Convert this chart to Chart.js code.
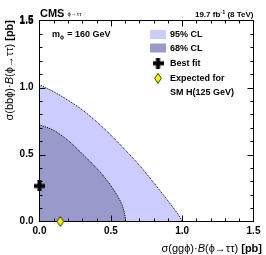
<!DOCTYPE html>
<html><head><meta charset="utf-8">
<script src="https://cdn.jsdelivr.net/npm/chart.js@4.4.0/dist/chart.umd.min.js"></script>
<style>html,body{margin:0;padding:0;background:#fff;}#wrap{width:266px;height:255px;}</style>
</head><body><div id="wrap"><canvas id="c" width="266" height="255"></canvas></div>
<script>
// ---- data ----
const outer95X = [0, 0.1, 0.2, 0.3, 0.4, 0.5, 0.6, 0.7, 0.8, 0.9, 0.95, 0.98, 1.0];
const outer95Y = [1.02, 0.968, 0.905, 0.833, 0.745, 0.645, 0.535, 0.42, 0.29, 0.155, 0.085, 0.04, 0];
const inner68X = [0, 0.1, 0.2, 0.3, 0.4, 0.45, 0.5, 0.55, 0.575, 0.59, 0.6, 0.603];
const inner68Y = [0.722, 0.68, 0.605, 0.505, 0.398, 0.338, 0.268, 0.185, 0.133, 0.085, 0.035, 0];
const bestFitX = [0];
const bestFitY = [0.265];
const expectedX = [0.146];
const expectedY = [0];
const xTickValues = [0, 0.5, 1.0, 1.5];
const yTickValues = [0, 0.5, 1.0, 1.5];
const legendLabels = ['95% CL', '68% CL', 'Best fit', 'Expected for', 'SM H(125 GeV)'];

const FONT = '"Liberation Sans", Arial, Helvetica, sans-serif';
const C95 = '#ccccff', C68 = '#9999cc';

function zip(xs, ys) { return xs.map((x, i) => ({x: x, y: ys[i]})); }

function makeCross() {
  const c = document.createElement('canvas'); c.width = 11; c.height = 11;
  const g = c.getContext('2d'); g.fillStyle = '#000';
  g.fillRect(3.5, 0, 4, 11); g.fillRect(0, 3.5, 11, 4);
  return c;
}
function makeDiamond() {
  const c = document.createElement('canvas'); c.width = 8; c.height = 11;
  const g = c.getContext('2d');
  g.beginPath(); g.moveTo(4, 0.6); g.lineTo(7.3, 5.5); g.lineTo(4, 10.4); g.lineTo(0.7, 5.5); g.closePath();
  g.fillStyle = '#ffff00'; g.fill(); g.lineWidth = 1; g.strokeStyle = '#333300'; g.stroke();
  return c;
}
const crossImg = makeCross(), diamondImg = makeDiamond();

const frameTicks = {
  id: 'frameTicks',
  afterDatasetDraw(chart, args) {
    if (args.index !== 2) return;
    const ctx = chart.ctx, a = chart.chartArea, xs = chart.scales.x, ys = chart.scales.y;
    ctx.save();
    ctx.strokeStyle = '#000'; ctx.lineWidth = 1;
    ctx.beginPath();
    for (let i = 1; i < 15; i++) {
      const len = (i % 5 === 0) ? 6 : 3;
      const px = Math.round(xs.getPixelForValue(i / 10)) + 0.5;
      ctx.moveTo(px, a.bottom); ctx.lineTo(px, a.bottom - len);
      ctx.moveTo(px, a.top); ctx.lineTo(px, a.top + len);
      const py = Math.round(ys.getPixelForValue(i / 10)) + 0.5;
      ctx.moveTo(a.left, py); ctx.lineTo(a.left + len, py);
      ctx.moveTo(a.right, py); ctx.lineTo(a.right - len, py);
    }
    ctx.stroke();
    ctx.strokeRect(a.left, a.top, a.right - a.left, a.bottom - a.top);
    ctx.restore();
  }
};

const annotations = {
  id: 'annotations',
  afterDraw(chart) {
    const ctx = chart.ctx, a = chart.chartArea, ys = chart.scales.y;
    const size = 11;
    const widthOf = segs => { let w = 0; segs.forEach(s => { ctx.font = s[0] + size + 'px ' + FONT; w += ctx.measureText(s[1]).width; }); return w; };
    const drawSegs = (segs, x, y) => { segs.forEach(s => { ctx.font = s[0] + size + 'px ' + FONT; ctx.fillText(s[1], x, y); x += ctx.measureText(s[1]).width; }); };
    const segsX = [['', 'σ(ggϕ)·'], ['italic ', 'B'], ['', '(ϕ→ττ) '], ['bold ', '[pb]']];
    const segsY = [['', 'σ(bbϕ)·'], ['italic ', 'B'], ['', '(ϕ→ττ) '], ['bold ', '[pb]']];

    // y axis title (rotated), drawn first in its own state
    ctx.save();
    ctx.fillStyle = '#000'; ctx.textAlign = 'left'; ctx.textBaseline = 'alphabetic';
    const wy = widthOf(segsY);
    ctx.setTransform(0, -1, 1, 0, 13, 20 + wy);
    drawSegs(segsY, 0, 0);
    ctx.restore();

    ctx.save();
    ctx.setTransform(1, 0, 0, 1, 0, 0);
    ctx.fillStyle = '#000';
    ctx.textBaseline = 'alphabetic';
    ctx.textAlign = 'left';
    const wx = widthOf(segsX);
    drawSegs(segsX, 262 - wx, 252);
    ctx.font = 'bold 11px ' + FONT;
    ctx.fillText('CMS', 40, 16.5);
    ctx.font = '6px ' + FONT;
    ctx.fillText('\u03D5\u2192\u03C4\u03C4', 67.5, 16);
    const f1 = 'bold 8px ' + FONT, f2 = 'bold 5.5px ' + FONT;
    ctx.font = f1; const w1 = ctx.measureText('19.7 fb').width, w3 = ctx.measureText(' (8 TeV)').width;
    ctx.font = f2; const w2 = ctx.measureText('-1').width;
    const x0 = a.right - (w1 + w2 + w3);
    ctx.font = f1; ctx.fillText('19.7 fb', x0, 17.3);
    ctx.font = f2; ctx.fillText('-1', x0 + w1, 13.5);
    ctx.font = f1; ctx.fillText(' (8 TeV)', x0 + w1 + w2, 17.3);
    ctx.font = 'bold 9px ' + FONT;
    ctx.fillText('m', 52, 36.5);
    const wm = ctx.measureText('m').width;
    ctx.font = 'bold 5.5px ' + FONT; ctx.fillText('\u03D5', 52 + wm, 38.5);
    const ws = ctx.measureText('\u03D5').width;
    ctx.font = 'bold 9px ' + FONT; ctx.fillText(' = 160 GeV', 52 + wm + ws + 0.5, 36.5);
    ctx.fillStyle = C95; ctx.fillRect(150, 30, 16, 9);
    ctx.fillStyle = C68; ctx.fillRect(150, 43.5, 16, 9);
    ctx.drawImage(crossImg, 158 - 5.5, 63.3 - 5.5);
    ctx.drawImage(diamondImg, 158 - 4, 78.3 - 5.5);
    ctx.fillStyle = '#000'; ctx.font = 'bold 9px ' + FONT; ctx.textBaseline = 'middle';
    const ly = [34.5, 48.5, 63.3, 78.3, 92.8];
    legendLabels.forEach((t, i) => ctx.fillText(t, 170, ly[i]));
    // top y tick label, re-drawn last so it is never lost
    ctx.font = 'bold 10px ' + FONT; ctx.textAlign = 'right'; ctx.textBaseline = 'middle';
    const topV = yTickValues[yTickValues.length - 1];
    ctx.fillText(topV.toFixed(1), a.left - 6, ys.getPixelForValue(topV) + 0.5);
    ctx.restore();
  }
};

const tickFont = {family: FONT, size: 10, weight: 'bold'};

new Chart(document.getElementById('c'), {
  type: 'scatter',
  data: {
    datasets: [
      {label: 'Best fit', data: zip(bestFitX, bestFitY), pointStyle: crossImg, pointRadius: 5, clip: false, showLine: false},
      {label: 'Expected for SM H(125 GeV)', data: zip(expectedX, expectedY), pointStyle: diamondImg, pointRadius: 5, clip: false, showLine: false},
      {label: '68% CL', data: zip(inner68X, inner68Y), showLine: true, fill: 'origin', backgroundColor: C68,
        borderColor: '#000', borderWidth: 1, borderDash: [1, 1], pointRadius: 0, tension: 0.3},
      {label: '95% CL', data: zip(outer95X, outer95Y), showLine: true, fill: 'origin', backgroundColor: C95,
        borderColor: '#000', borderWidth: 1, borderDash: [1, 1], pointRadius: 0, tension: 0.3}
    ]
  },
  options: {
    responsive: false, animation: false, devicePixelRatio: 1,
    layout: {padding: {left: 0, top: 20.5, right: 12.5, bottom: 0}},
    plugins: {legend: {display: false}, tooltip: {enabled: false}},
    scales: {
      x: {type: 'linear', min: 0, max: 1.5,
        afterBuildTicks(s) { s.ticks = xTickValues.map(v => ({value: v})); },
        afterFit(s) { s.height = 33.5; },
        ticks: {callback: v => Number(v).toFixed(1), font: tickFont, color: '#000', padding: 4, maxRotation: 0, autoSkip: false},
        grid: {display: false, drawTicks: false}, border: {display: false}},
      y: {type: 'linear', min: 0, max: 1.5,
        afterBuildTicks(s) { s.ticks = yTickValues.map(v => ({value: v})); },
        afterFit(s) { s.width = 39.5; },
        ticks: {callback: v => Number(v).toFixed(1), font: tickFont, color: '#000', padding: 6, autoSkip: false},
        grid: {display: false, drawTicks: false}, border: {display: false}}
    }
  },
  plugins: [frameTicks, annotations]
});
</script></body></html>
